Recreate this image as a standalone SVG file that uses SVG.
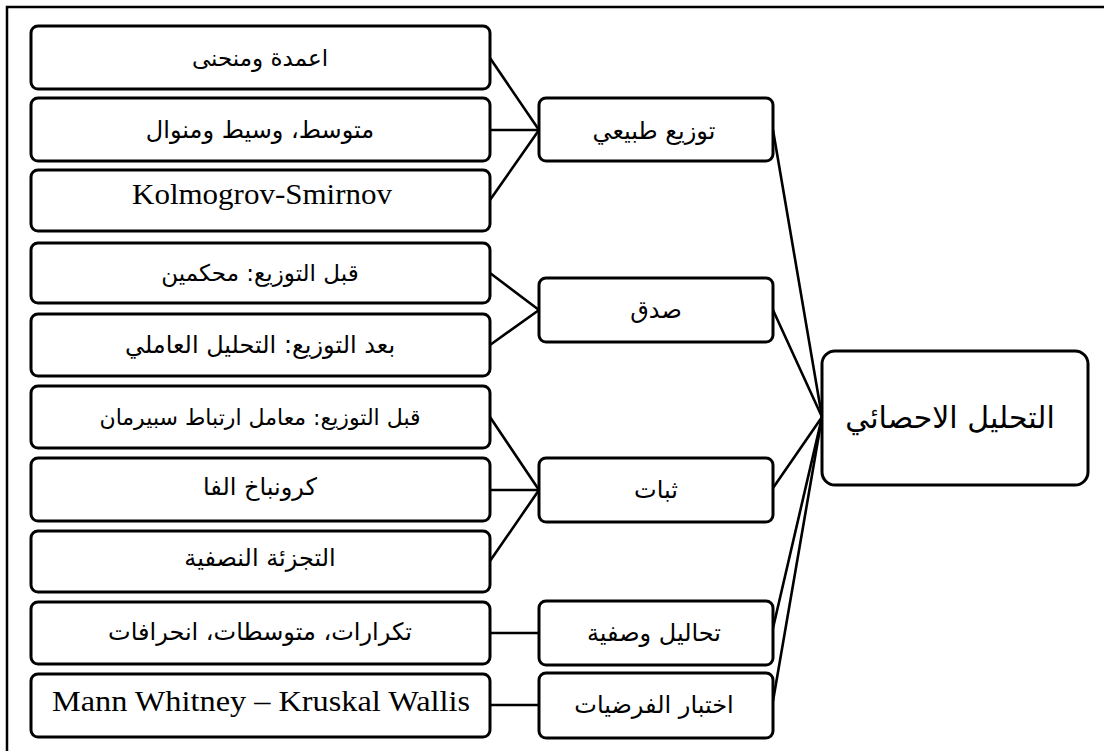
<svg xmlns="http://www.w3.org/2000/svg" width="1104" height="751" viewBox="0 0 1104 751">
<style>
.box{fill:#fff;stroke:#000;stroke-width:3}
.frame{fill:none;stroke:#000;stroke-width:2.5}
.conn line{stroke:#000;stroke-width:2.6;stroke-linecap:round}
.ar{font-family:"DejaVu Sans","Noto Sans",sans-serif;font-size:24px;fill:#000;text-anchor:middle;direction:rtl}
.lat{font-family:"Liberation Serif","DejaVu Serif",serif;font-size:30px;fill:#000;text-anchor:middle}
.big{font-size:30px}
</style>
<rect x="0" y="0" width="1104" height="751" fill="#fff"/>
<path class="frame" d="M7,751 V7 H1104"/>
<g id="connectors" class="conn">
<line x1="490" y1="58" x2="539" y2="130"/>
<line x1="490" y1="130" x2="539" y2="130"/>
<line x1="490" y1="200" x2="539" y2="130"/>
<line x1="490" y1="273" x2="539" y2="310"/>
<line x1="490" y1="345" x2="539" y2="310"/>
<line x1="490" y1="417" x2="539" y2="490"/>
<line x1="490" y1="490" x2="539" y2="490"/>
<line x1="490" y1="561" x2="539" y2="490"/>
<line x1="490" y1="633" x2="539" y2="633"/>
<line x1="490" y1="705" x2="539" y2="705"/>
<line x1="773" y1="130" x2="822" y2="417"/>
<line x1="773" y1="310" x2="822" y2="417"/>
<line x1="773" y1="488" x2="822" y2="417"/>
<line x1="773" y1="628" x2="822" y2="417"/>
<line x1="773" y1="701" x2="822" y2="417"/>
</g>
<g id="n-l1"><rect class="box" x="31" y="26" width="459" height="63" rx="7"/><text class="ar" x="260" y="66" style="font-size:23px">اعمدة ومنحنى</text></g>
<g id="n-l2"><rect class="box" x="31" y="98" width="459" height="63" rx="7"/><text class="ar" x="260" y="138">متوسط، وسيط ومنوال</text></g>
<g id="n-l3"><rect class="box" x="31" y="170" width="459" height="61" rx="7"/><text class="lat" x="262" y="204" textLength="260" lengthAdjust="spacingAndGlyphs">Kolmogrov-Smirnov</text></g>
<g id="n-l4"><rect class="box" x="31" y="243" width="459" height="60" rx="7"/><text class="ar" x="260" y="281" style="font-size:23px">قبل التوزيع: محكمين</text></g>
<g id="n-l5"><rect class="box" x="31" y="314" width="459" height="62" rx="7"/><text class="ar" x="260" y="353">بعد التوزيع: التحليل العاملي</text></g>
<g id="n-l6"><rect class="box" x="31" y="386" width="459" height="62" rx="7"/><text class="ar" x="260" y="425" style="font-size:22px">قبل التوزيع: معامل ارتباط سبيرمان</text></g>
<g id="n-l7"><rect class="box" x="31" y="458" width="459" height="63" rx="7"/><text class="ar" x="260" y="495">كرونباخ الفا</text></g>
<g id="n-l8"><rect class="box" x="31" y="531" width="459" height="61" rx="7"/><text class="ar" x="260" y="566">التجزئة النصفية</text></g>
<g id="n-l9"><rect class="box" x="31" y="602" width="459" height="62" rx="7"/><text class="ar" x="260" y="640">تكرارات، متوسطات، انحرافات</text></g>
<g id="n-l10"><rect class="box" x="31" y="674" width="459" height="63" rx="7"/><text class="lat" x="261" y="711" textLength="418" lengthAdjust="spacingAndGlyphs">Mann Whitney – Kruskal Wallis</text></g>
<g id="n-m1"><rect class="box" x="539" y="98" width="234" height="63" rx="7"/><text class="ar" x="654" y="139">توزيع طبيعي</text></g>
<g id="n-m2"><rect class="box" x="539" y="278" width="234" height="64" rx="7"/><text class="ar" x="656" y="318">صدق</text></g>
<g id="n-m3"><rect class="box" x="539" y="458" width="234" height="64" rx="7"/><text class="ar" x="656" y="498">ثبات</text></g>
<g id="n-m4"><rect class="box" x="539" y="601" width="234" height="64" rx="7"/><text class="ar" x="654" y="641">تحاليل وصفية</text></g>
<g id="n-m5"><rect class="box" x="539" y="673" width="234" height="65" rx="7"/><text class="ar" x="654" y="713">اختبار الفرضيات</text></g>
<g id="n-root"><rect class="box" x="822" y="351" width="266" height="134" rx="13"/><text class="ar big" x="950" y="428">التحليل الاحصائي</text></g>
</svg>
